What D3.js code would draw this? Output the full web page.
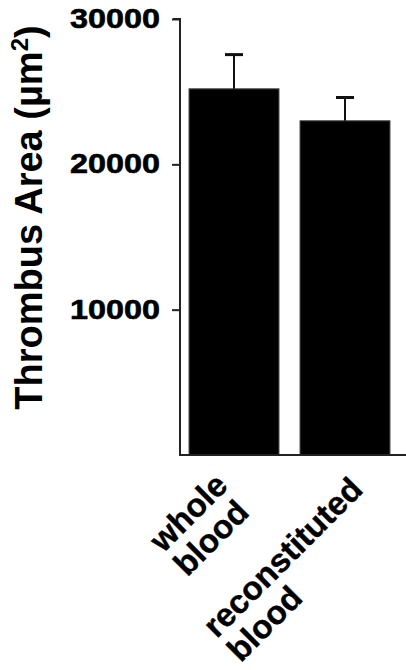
<!DOCTYPE html>
<html>
<head>
<meta charset="utf-8">
<script src="https://cdn.jsdelivr.net/npm/d3@7"></script>
<style>
  html, body { margin: 0; padding: 0; background: #fff; }
  svg { display: block; }
  text { font-family: "Liberation Sans", Arial, Helvetica, sans-serif; font-weight: bold; fill: #000; }
</style>
</head>
<body>
<svg id="chart" width="406" height="670"></svg>
<script>
// ---- data ----
const categories = ["whole blood", "reconstituted blood"];
const categoryLines = [["whole", "blood"], ["reconstituted", "blood"]];
const means = [25200, 23000];
const errors = [2350, 1600];
const yTicks = [10000, 20000, 30000];
const yTickLabels = ["10000", "20000", "30000"];
const yTitleMain = "Thrombus Area (µm";
const yTitleSup = "2";
const yTitleEnd = ")";

// ---- layout ----
const W = 406, H = 670;
const svg = d3.select("#chart");

const y = d3.scaleLinear().domain([0, 30000]).range([455, 19]);
const x = d3.scaleBand().domain(categories).range([180, 399])
  .paddingInner(0.189).paddingOuter(0.081);

// bars
svg.append("g").selectAll("rect").data(categories).join("rect")
  .attr("x", d => x(d))
  .attr("y", (d, i) => y(means[i]))
  .attr("width", x.bandwidth())
  .attr("height", (d, i) => y(0) - y(means[i]))
  .attr("fill", "#000")
  .attr("stroke", "#555")
  .attr("stroke-width", 1);

// error bars
const eb = svg.append("g").attr("stroke", "#111");
categories.forEach((c, i) => {
  const cx = x(c) + x.bandwidth() / 2;
  eb.append("line")
    .attr("x1", cx).attr("x2", cx)
    .attr("y1", y(means[i])).attr("y2", y(means[i] + errors[i]))
    .attr("stroke-width", 2);
  eb.append("line")
    .attr("x1", cx - 9).attr("x2", cx + 9)
    .attr("y1", y(means[i] + errors[i])).attr("y2", y(means[i] + errors[i]))
    .attr("stroke-width", 3);
});

// y axis
const yAxis = d3.axisLeft(y)
  .tickValues(yTicks)
  .tickFormat((d, i) => yTickLabels[i])
  .tickSize(8)
  .tickPadding(12);
const gy = svg.append("g").attr("transform", "translate(180,0)").call(yAxis);
gy.select(".domain").attr("d", `M-7,${y(30000)}H0V${y(0)}`).attr("stroke", "#222").attr("stroke-width", 2).attr("fill", "none");
gy.selectAll(".tick line").attr("stroke", "#222").attr("stroke-width", 2);
gy.selectAll(".tick text")
  .attr("font-size", 27)
  .attr("font-family", "Liberation Sans, Arial, sans-serif")
  .attr("font-weight", "bold")
  .attr("fill", "#000")
  .attr("stroke", "#000")
  .attr("stroke-width", 0.6)
  .attr("textLength", 90)
  .attr("lengthAdjust", "spacingAndGlyphs");

// x baseline
svg.append("line")
  .attr("x1", 179).attr("x2", W)
  .attr("y1", y(0)).attr("y2", y(0))
  .attr("stroke", "#222").attr("stroke-width", 2);

// category labels (rotated, lines left-aligned, block end near tick)
const fsCat = 33, lineH = 34;
categories.forEach((c, i) => {
  const tx = x(c) + x.bandwidth() / 2;
  const g = svg.append("g");
  const texts = categoryLines[i].map((line, j) =>
    g.append("text").attr("font-size", fsCat).attr("y", j * lineH)
      .attr("stroke", "#000").attr("stroke-width", 0.4).text(line));
  const w = d3.max(texts, t => t.node().getComputedTextLength());
  texts.forEach(t => t.attr("x", -w));
  const ex = tx - 24 + 0.208 * w;
  const ey = y(0) + 29 + 0.035 * w;
  g.attr("transform", `translate(${ex},${ey}) rotate(-45)`);
});

// y title
const title = svg.append("text")
  .attr("transform", `translate(42,${(25 + 410) / 2}) rotate(-90)`)
  .attr("text-anchor", "middle")
  .attr("font-size", 38);
title.append("tspan").text(yTitleMain);
title.append("tspan").attr("font-size", 24).attr("dy", -14).text(yTitleSup);
title.append("tspan").attr("dy", 14).text(yTitleEnd);
</script>
</body>
</html>
